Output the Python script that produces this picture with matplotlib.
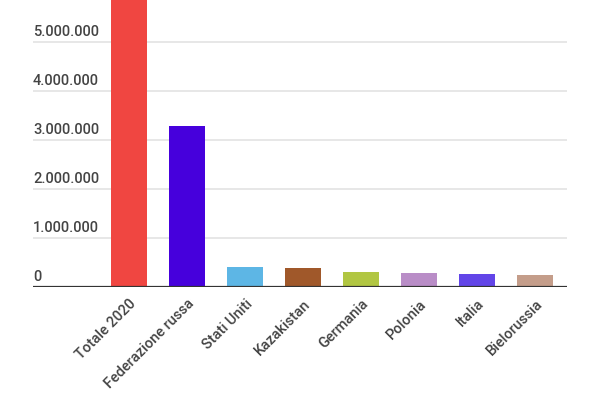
import matplotlib
matplotlib.use("Agg")
import matplotlib.pyplot as plt
import matplotlib.transforms as mtransforms

categories = ["Totale 2020", "Federazione russa", "Stati Uniti", "Kazakistan",
              "Germania", "Polonia", "Italia", "Bielorussia"]
values = [6200000, 3280000, 400000, 380000, 310000, 290000, 270000, 240000]
colors = ["#f04641", "#4600dc", "#5db6e5", "#a0582a", "#b1c642",
          "#b98dc7", "#6245e8", "#c49d8a"]
yticks = [0, 1000000, 2000000, 3000000, 4000000, 5000000]

plt.rcParams['font.family'] = ['Roboto', 'DejaVu Sans']

fig = plt.figure(figsize=(6, 4), dpi=100)
ax = fig.add_axes([0.055, 0.2825, 0.89, 0.7175])

x = list(range(len(categories)))
ax.set_axisbelow(True)
for t in yticks[1:]:
    ax.axhline(t, color="#e3e3e3", lw=1.2, zorder=0)
ax.bar(x, values, width=0.62, color=colors, zorder=2)
ax.axhline(0, color="#333333", lw=1.6, zorder=3)

ax.set_xlim(-1.66, 7.55)
ax.set_ylim(0, 5860000)
for s in ax.spines.values():
    s.set_visible(False)
ax.set_yticks([])
ax.set_xticks(x)
ax.set_xticklabels(categories, rotation=45, ha="right", va="top",
                   rotation_mode="anchor", fontsize=10.5, color="#444444",
                   fontweight="medium")
ax.tick_params(axis="x", length=0, pad=7)

trans = mtransforms.blended_transform_factory(ax.transAxes, ax.transData)
off = mtransforms.offset_copy(trans, fig=fig, x=0, y=2.5, units="points")
for t in yticks:
    lab = f"{t:,}".replace(",", ".")
    ax.text(0, t, lab, transform=off, ha="left", va="bottom",
            fontsize=10.5, color="#444444", fontweight="medium")

fig.savefig("out.png", dpi=100)
